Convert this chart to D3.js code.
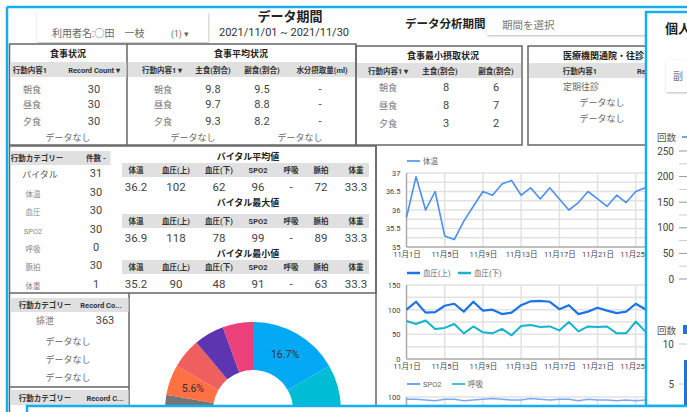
<!DOCTYPE html>
<html lang="ja">
<head>
<meta charset="UTF-8">
<title>個人ダッシュボード</title>
<script src="https://d3js.org/d3.v7.min.js"></script>
<style>
  html, body { margin: 0; padding: 0; background: #fff; overflow: hidden; }
  svg text { font-family: Roboto, "Noto Sans CJK JP", sans-serif; }
</style>
</head>
<body>
<svg id="dash" width="687" height="412"></svg>
<script>
// ---- data ----
const userName = "利用者名:○田　一枝";
const periodText = "2021/11/01 ~ 2021/11/30";

const mealLabels = ["朝食", "昼食", "夕食"];
const mealCounts = [30, 30, 30];
const mealAvgMain = [9.8, 9.7, 9.3];
const mealAvgSide = [9.5, 8.8, 8.2];
const mealAvgWater = ["-", "-", "-"];
const mealMinMain = [8, 8, 3];
const mealMinSide = [6, 7, 2];
const visitLabels = ["定期往診"];

const categoryLabels = ["バイタル", "体温", "血圧", "SPO2", "呼吸", "脈拍", "体重"];
const categoryCounts = [31, 30, 30, 30, 0, 30, 1];

const vitalColumns = ["体温", "血圧(上)", "血圧(下)", "SPO2", "呼吸", "脈拍", "体重"];
const vitalAvg = ["36.2", "102", "62", "96", "-", "72", "33.3"];
const vitalMax = ["36.9", "118", "78", "99", "-", "89", "33.3"];
const vitalMin = ["35.2", "90", "48", "91", "-", "63", "33.3"];

const excretionLabels = ["排泄"];
const excretionCounts = [363];

const days = d3.range(1, 31); // 11月1日 .. 11月30日
const bodyTemp = [35.8, 36.9, 36.0, 36.5, 35.3, 35.2, 35.7, 36.1, 36.5, 36.4, 36.7, 36.8, 36.4, 36.6, 36.3,
                  36.6, 36.3, 36.0, 36.2, 36.5, 36.3, 36.1, 36.4, 36.2, 36.5, 36.6, 36.4, 36.3, 36.5, 36.2];
const bpHigh = [100, 116, 94, 95, 108, 112, 96, 116, 98, 100, 91, 94, 109, 117, 118,
                116, 101, 109, 91, 96, 104, 98, 93, 96, 112, 101, 97, 105, 99, 102];
const bpLow = [77, 71, 78, 61, 63, 71, 52, 66, 54, 52, 61, 48, 67, 69, 65,
               66, 58, 75, 56, 66, 65, 66, 52, 52, 76, 56, 62, 58, 64, 60];
const spo2 = [97, 97, 96, 95, 97, 97, 95, 96, 97, 98, 97, 96, 96, 98, 97,
              96, 97, 97, 95, 97, 96, 96, 95, 96, 95, 96, 97, 96, 97, 96];

const pieValues = [3, 3, 2, 2, 2, 1, 1, 1, 1, 1, 1];
const pieColors = ["#03a9f4", "#00bcd4", "#8bc34a", "#ffc107", "#cddc39", "#795548",
                   "#757575", "#ff7043", "#ef5f5f", "#5e35b1", "#ec407a"];

const countTicks = [0, 50, 100, 150, 200, 250];
const barCounts = [8];

// ---- helpers ----
const svg = d3.select("#dash");
const BLUE = "#17aef0";
const BORDER = "#666";
const GREY = "#e0e0e0";

const defs = svg.append("defs");
const shadow = defs.append("filter").attr("id", "shadow")
    .attr("x", "-10%").attr("y", "-30%").attr("width", "130%").attr("height", "170%");
shadow.append("feDropShadow").attr("dx", 0.5).attr("dy", 1).attr("stdDeviation", 1.2)
    .attr("flood-color", "#000").attr("flood-opacity", 0.28);

function label(x, y, s, o = {}) {
    return svg.append("text")
        .attr("x", x).attr("y", y).text(s)
        .attr("text-anchor", o.anchor || "middle")
        .attr("font-size", o.size || 9)
        .attr("font-weight", o.bold ? 700 : 400)
        .attr("fill", o.color || "#444");
}
function rect(x, y, w, h, fill, stroke, sw) {
    return svg.append("rect").attr("x", x).attr("y", y).attr("width", w).attr("height", h)
        .attr("fill", fill || "none").attr("stroke", stroke || "none").attr("stroke-width", sw || 0);
}
function line(x1, y1, x2, y2, stroke, sw) {
    svg.append("line").attr("x1", x1).attr("y1", y1).attr("x2", x2).attr("y2", y2)
        .attr("stroke", stroke).attr("stroke-width", sw);
}

// ---- header ----
rect(37, 12, 171, 30, "#fff").attr("filter", "url(#shadow)");
label(52, 37, userName, { anchor: "start", size: 10, color: "#666" });
label(171, 37, "(1) ▾", { anchor: "start", size: 8.5, color: "#666" });
label(290, 21, "データ期間", { size: 13, bold: true, color: "#222" });
label(284, 36, periodText, { size: 11, color: "#333" });
label(405, 28, "データ分析期間", { anchor: "start", size: 11.5, bold: true, color: "#222" });
rect(487, 14, 180, 21, "#fff").attr("filter", "url(#shadow)");
label(502, 29, "期間を選択", { anchor: "start", size: 10.5, color: "#777" });

// ---- meal panels ----
rect(9.5, 44, 346.5, 101, "none", BORDER, 1.5);
line(127, 44, 127, 145, BORDER, 1.5);
rect(356, 46, 166, 99, "none", BORDER, 1.5);
rect(528, 46, 180, 99, "none", BORDER, 1.5);
rect(10.5, 62, 116, 15, GREY);
rect(128, 62, 227, 15, GREY);
rect(357, 63, 164, 15, GREY);
rect(529, 63, 140, 15, GREY);

label(68, 57, "食事状況", { size: 9, bold: true, color: "#222" });
label(241, 57, "食事平均状況", { size: 9, bold: true, color: "#222" });
label(443, 59, "食事最小摂取状況", { size: 9, bold: true, color: "#222" });
label(563, 59, "医療機関通院・往診", { anchor: "start", size: 9, bold: true, color: "#222" });

const hdr = { size: 7.5, bold: true, color: "#333" };
label(30, 73, "行動内容1", hdr);
label(94, 73, "Record Count ▾", hdr);
label(162, 73, "行動内容1 ▾", hdr);
label(213, 73, "主食(割合)", hdr);
label(262, 73, "副食(割合)", hdr);
label(322, 73, "水分摂取量(ml)", hdr);
label(388, 74, "行動内容1 ▾", hdr);
label(440, 74, "主食(割合)", hdr);
label(496, 74, "副食(割合)", hdr);
label(580, 74, "行動内容1", hdr);
label(637, 74, "Re", { ...hdr, anchor: "start" });

const rowY = [93, 108, 125];
const rowYMin = [91, 109, 127];
const nameStyle = { size: 9, color: "#777" };
const valStyle = { size: 11, color: "#444" };
mealLabels.forEach((m, i) => {
    label(32, rowY[i], m, nameStyle);
    label(94, rowY[i], mealCounts[i], valStyle);
    label(163, rowY[i], m, nameStyle);
    label(213, rowY[i], mealAvgMain[i].toFixed(1), valStyle);
    label(262, rowY[i], mealAvgSide[i].toFixed(1), valStyle);
    label(320, rowY[i], mealAvgWater[i], valStyle);
    label(388, rowYMin[i], m, nameStyle);
    label(446, rowYMin[i], mealMinMain[i], valStyle);
    label(496, rowYMin[i], mealMinSide[i], valStyle);
});
const noData = { size: 9, color: "#666" };
label(68, 141, "データなし", noData);
label(193, 141, "データなし", noData);
label(300, 141, "データなし", noData);
label(563, 90, visitLabels[0], { anchor: "start", size: 9, color: "#666" });
label(602, 106, "データなし", noData);
label(602, 122, "データなし", noData);

// ---- vital section ----
rect(9.5, 146, 366.5, 147, "none", BORDER, 1.5);
rect(10.5, 151, 100, 14, GREY);
label(37, 161, "行動カテゴリー", hdr);
label(96, 161, "件数 -", hdr);
const catY = [178, 197, 215, 234, 252, 270, 289];
categoryLabels.forEach((c, i) => {
    label(i === 0 ? 40 : 33, catY[i], c, i === 0 ? { size: 9, color: "#555" } : { size: 7.5, color: "#888" });
    label(96, catY[i] - 1, categoryCounts[i], valStyle);
});

const vitalX = [136, 176, 219, 258, 291, 321, 356];
const vitalBlocks = [
    { title: "バイタル平均値", ty: 160, hy: 163, values: vitalAvg },
    { title: "バイタル最大値", ty: 206, hy: 214, values: vitalMax },
    { title: "バイタル最小値", ty: 257, hy: 260, values: vitalMin }
];
vitalBlocks.forEach(b => {
    label(248, b.ty, b.title, { size: 9, bold: true, color: "#222" });
    rect(122, b.hy, 247, 14, GREY);
    vitalColumns.forEach((c, i) => {
        label(vitalX[i], b.hy + 10, c, { size: 7.5, bold: true, color: "#333" });
        label(vitalX[i], b.hy + 28, b.values[i], { size: 11.5, color: "#444" });
    });
});

// ---- excretion tables ----
line(9.5, 293, 9.5, 412, BORDER, 1.5);
line(129, 293, 129, 412, BORDER, 1.5);
line(376, 146, 376, 412, BORDER, 1.5);
rect(10.5, 298, 118, 14, GREY);
label(45, 308, "行動カテゴリー", hdr);
label(101, 308, "Record Co...", hdr);
label(45, 324, excretionLabels[0], { size: 9, color: "#777" });
label(105, 324, excretionCounts[0], valStyle);
label(68, 345, "データなし", noData);
label(68, 363, "データなし", noData);
label(68, 381, "データなし", noData);
line(9.5, 387, 129, 387, BORDER, 1.5);
rect(10.5, 390, 118, 15, GREY);
label(45, 401, "行動カテゴリー", hdr);
label(105, 401, "Record C...", hdr);

// ---- donut ----
const pieG = svg.append("g").attr("transform", "translate(253,410)");
const arcs = d3.pie().sort(null)(pieValues);
const arc = d3.arc().innerRadius(40).outerRadius(88);
const total = d3.sum(pieValues);
pieG.selectAll("path").data(arcs).join("path")
    .attr("d", arc).attr("fill", (d, i) => pieColors[i]);
// only the labels that sit above the bottom panel are drawn
const labelled = new Set([0, 7]);
pieG.selectAll("text").data(arcs.filter((d, i) => labelled.has(i))).join("text")
    .attr("transform", d => `translate(${arc.centroid(d)})`)
    .attr("dy", "0.35em").attr("text-anchor", "middle")
    .attr("font-size", 10.5).attr("fill", "#333")
    .text(d => (d.value / total * 100).toFixed(1) + "%");

// ---- line charts ----
const x = d3.scaleLinear().domain([1, 30]).range([406.5, 683.5]);
const dayTicks = [1, 5, 9, 13, 17, 21, 25, 29];
const dayLabels = dayTicks.filter(d => x(d) < 646);

function lineChart(cfg) {
    const y = d3.scaleLinear().domain(cfg.domain).range(cfg.range);
    const g = svg.append("g");
    cfg.grid.forEach(v => {
        g.append("line").attr("x1", x(1)).attr("x2", x(30)).attr("y1", y(v)).attr("y2", y(v))
            .attr("stroke", "#e2e2e2").attr("stroke-width", 1.5);
    });
    dayTicks.slice(1).forEach(d => {
        g.append("line").attr("x1", x(d)).attr("x2", x(d)).attr("y1", cfg.range[0]).attr("y2", cfg.range[1])
            .attr("stroke", "#e2e2e2").attr("stroke-width", 1.5);
    });
    g.append("line").attr("x1", x(1)).attr("x2", x(1)).attr("y1", cfg.range[0]).attr("y2", cfg.range[1])
        .attr("stroke", "#aaa").attr("stroke-width", 1.5);
    g.append("line").attr("x1", x(1)).attr("x2", x(30)).attr("y1", cfg.range[0]).attr("y2", cfg.range[0])
        .attr("stroke", "#aaa").attr("stroke-width", 1.5);

    const ya = g.append("g").attr("transform", `translate(${x(1)},0)`)
        .call(d3.axisLeft(y).tickValues(cfg.ticks).tickFormat(d => String(d)).tickSize(0).tickPadding(6));
    ya.select(".domain").remove();
    ya.selectAll("text").attr("font-size", 7.5).attr("fill", "#444");

    if (cfg.xLabels) {
        const xa = g.append("g").attr("transform", `translate(0,${cfg.range[0]})`)
            .call(d3.axisBottom(x).tickValues(dayLabels).tickFormat(d => `11月${d}日`).tickSize(0).tickPadding(5));
        xa.select(".domain").remove();
        xa.selectAll("text").attr("font-size", 7.5).attr("fill", "#444");
    }

    cfg.series.forEach(s => {
        g.append("path").datum(s.values)
            .attr("fill", "none").attr("stroke", s.color).attr("stroke-width", s.width)
            .attr("stroke-linejoin", "round")
            .attr("d", d3.line().x((d, i) => x(days[i])).y(d => y(d)));
    });

    let lx = 407;
    cfg.legend.forEach(l => {
        g.append("line").attr("x1", lx).attr("x2", lx + 13).attr("y1", cfg.legendY).attr("y2", cfg.legendY)
            .attr("stroke", l.color).attr("stroke-width", l.width);
        g.append("text").attr("x", lx + 16).attr("y", cfg.legendY + 3)
            .attr("font-size", 7.5).attr("fill", "#666").text(l.name);
        lx += l.step;
    });
}

lineChart({
    domain: [35, 37], range: [247, 173],
    ticks: [35, 35.5, 36, 36.5, 37],
    grid: [35.25, 35.5, 35.75, 36, 36.25, 36.5, 36.75, 37],
    xLabels: true,
    series: [{ values: bodyTemp, color: "#4a8ff2", width: 1.6 }],
    legendY: 161,
    legend: [{ name: "体温", color: "#4a8ff2", width: 1.6, step: 50 }]
});
lineChart({
    domain: [0, 150], range: [359, 285],
    ticks: [0, 50, 100, 150],
    grid: [25, 50, 75, 100, 125, 150],
    xLabels: true,
    series: [
        { values: bpHigh, color: "#1a73e8", width: 2.2 },
        { values: bpLow, color: "#12b5cb", width: 2 }
    ],
    legendY: 273,
    legend: [
        { name: "血圧(上)", color: "#1a73e8", width: 2.5, step: 51 },
        { name: "血圧(下)", color: "#12b5cb", width: 2.5, step: 50 }
    ]
});
lineChart({
    domain: [0, 100], range: [471, 397],
    ticks: [100],
    grid: [75, 100],
    xLabels: false,
    series: [{ values: spo2, color: "#79a9f5", width: 1.6 }],
    legendY: 384,
    legend: [
        { name: "SPO2", color: "#4a8ff2", width: 1.6, step: 45 },
        { name: "呼吸", color: "#12b5cb", width: 1.6, step: 45 }
    ]
});

// ---- right overlay panel ----
rect(646, 12, 60, 394, "#fff", BLUE, 2.5);
label(665, 33, "個人", { anchor: "start", size: 13, bold: true, color: "#222" });
rect(666, 60, 60, 32, "#fff").attr("filter", "url(#shadow)");
label(673, 80, "副", { anchor: "start", size: 10, color: "#777" });

const yCount = d3.scaleLinear().domain([0, 250]).range([279, 151]);
label(657, 141, "回数", { anchor: "start", size: 9.5, color: "#555" });
line(682, 137, 695, 137, "#4a8ff2", 1.6);
d3.range(0, 251, 25).forEach(v => {
    line(679, yCount(v), 700, yCount(v), v % 50 === 0 ? "#999" : "#ccc", 1);
});
countTicks.forEach(v => label(674, yCount(v) + 3.5, v, { anchor: "end", size: 10, color: "#444" }));

const yBar = d3.scaleLinear().domain([0, 10]).range([424, 344]);
label(657, 334, "回数", { anchor: "start", size: 9.5, color: "#555" });
rect(683, 325, 10, 9, "#1a73e8");
[5, 10].forEach(v => {
    line(679, yBar(v), 700, yBar(v), "#ccc", 1);
    label(674, yBar(v) + 3.5, v, { anchor: "end", size: 10, color: "#444" });
});
svg.selectAll(".bar").data(barCounts).join("rect").attr("class", "bar")
    .attr("x", 684).attr("width", 20)
    .attr("y", d => yBar(d)).attr("height", d => yBar(0) - yBar(d))
    .attr("fill", "#1a73e8");

// ---- bottom overlay & frame ----
rect(27, 406, 700, 30, "#fff", BLUE, 2.5);
line(7, 7, 687, 7, BLUE, 2.5);
line(7, 7, 7, 412, BLUE, 2.5);
</script>
</body>
</html>
